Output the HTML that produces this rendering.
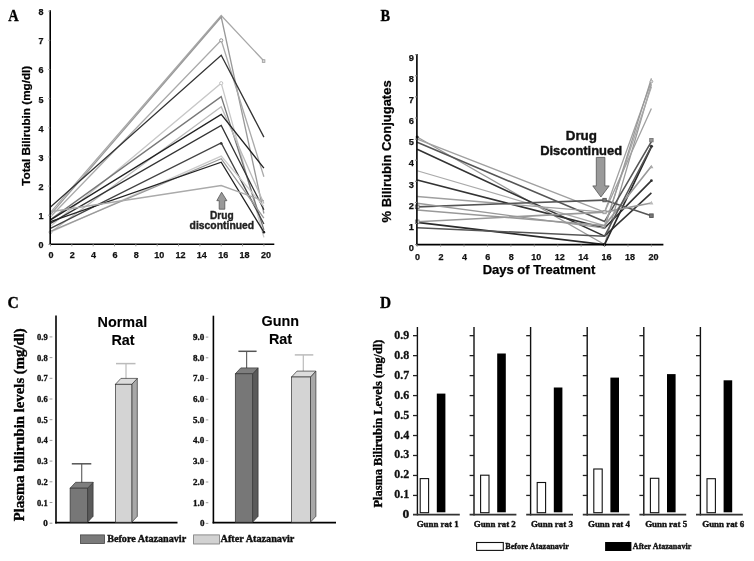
<!DOCTYPE html>
<html><head><meta charset="utf-8"><style>
html,body{margin:0;padding:0;background:#fff;}
svg{display:block;will-change:transform;}
.S{font-family:"Liberation Sans", sans-serif;}
.R{font-family:"Liberation Serif", serif;}
</style></head><body>
<svg width="754" height="561" viewBox="0 0 754 561">
<rect width="754" height="561" fill="#fff"/>
<text class="R" x="0" y="0" font-size="17" font-weight="bold" text-anchor="middle" fill="#000" stroke="#000" stroke-width="0.35" transform="translate(13.35,21.2) scale(0.85,1)">A</text>
<polyline points="50.50,212.34 221.22,15.57 263.90,61.05" fill="none" stroke="#a8a8a8" stroke-width="1.3" stroke-linejoin="miter"/>
<polyline points="50.50,214.67 221.22,17.03 263.90,213.50" fill="none" stroke="#999999" stroke-width="1.3" stroke-linejoin="miter"/>
<polyline points="50.50,216.71 221.22,40.35 263.90,176.77" fill="none" stroke="#aaaaaa" stroke-width="1.3" stroke-linejoin="miter"/>
<polyline points="50.50,207.09 221.22,55.22 263.90,137.13" fill="none" stroke="#333333" stroke-width="1.3" stroke-linejoin="miter"/>
<polyline points="50.50,226.33 221.22,83.20 263.90,237.40" fill="none" stroke="#c8c8c8" stroke-width="1.3" stroke-linejoin="miter"/>
<polyline points="50.50,219.62 221.22,96.61 263.90,229.83" fill="none" stroke="#777777" stroke-width="1.3" stroke-linejoin="miter"/>
<polyline points="50.50,232.16 221.22,106.81 263.90,203.59" fill="none" stroke="#bbbbbb" stroke-width="1.3" stroke-linejoin="miter"/>
<polyline points="50.50,219.91 221.22,114.39 263.90,168.03" fill="none" stroke="#222222" stroke-width="1.3" stroke-linejoin="miter"/>
<polyline points="50.50,223.41 221.22,125.47 263.90,209.71" fill="none" stroke="#333333" stroke-width="1.3" stroke-linejoin="miter"/>
<polyline points="50.50,228.37 221.22,142.96 263.90,224.00" fill="none" stroke="#444444" stroke-width="1.3" stroke-linejoin="miter"/>
<polyline points="50.50,232.16 221.22,156.08 263.90,206.50" fill="none" stroke="#cccccc" stroke-width="1.3" stroke-linejoin="miter"/>
<polyline points="50.50,231.28 221.22,158.70 263.90,218.17" fill="none" stroke="#999999" stroke-width="1.3" stroke-linejoin="miter"/>
<polyline points="50.50,221.66 221.22,162.20 263.90,232.16" fill="none" stroke="#222222" stroke-width="1.3" stroke-linejoin="miter"/>
<polyline points="50.50,211.75 221.22,185.52 263.90,200.97" fill="none" stroke="#aaaaaa" stroke-width="1.3" stroke-linejoin="miter"/>
<circle cx="221.22" cy="40.35" r="1.6" fill="#fff" stroke="#888" stroke-width="0.9"/>
<circle cx="221.22" cy="83.20" r="1.6" fill="#fff" stroke="#bbb" stroke-width="0.9"/>
<circle cx="221.22" cy="143.54" r="1.3" fill="#333"/>
<rect x="262.30" y="59.75" width="2.60" height="2.60" fill="#ddd" stroke="#999" stroke-width="0.8"/>
<circle cx="263.90" cy="232.16" r="1.3" fill="#222"/>
<circle cx="50.50" cy="232.16" r="1.5" fill="#fff" stroke="#aaa" stroke-width="0.9"/>
<circle cx="50.50" cy="215.25" r="1.5" fill="#fff" stroke="#bbb" stroke-width="0.9"/>
<line x1="50.20" y1="10.30" x2="50.20" y2="245.10" stroke="#000" stroke-width="1.6"/>
<line x1="49.50" y1="244.20" x2="274.30" y2="244.20" stroke="#000" stroke-width="1.6"/>
<text class="S" x="43.6" y="248.3" font-size="9" font-weight="bold" text-anchor="end" fill="#111" stroke="#111" stroke-width="0.25">0</text>
<line x1="48.30" y1="244.40" x2="50.20" y2="244.40" stroke="#999" stroke-width="1"/>
<text class="S" x="43.6" y="219.15" font-size="9" font-weight="bold" text-anchor="end" fill="#111" stroke="#111" stroke-width="0.25">1</text>
<line x1="48.30" y1="215.25" x2="50.20" y2="215.25" stroke="#999" stroke-width="1"/>
<text class="S" x="43.6" y="190.00000000000003" font-size="9" font-weight="bold" text-anchor="end" fill="#111" stroke="#111" stroke-width="0.25">2</text>
<line x1="48.30" y1="186.10" x2="50.20" y2="186.10" stroke="#999" stroke-width="1"/>
<text class="S" x="43.6" y="160.85000000000002" font-size="9" font-weight="bold" text-anchor="end" fill="#111" stroke="#111" stroke-width="0.25">3</text>
<line x1="48.30" y1="156.95" x2="50.20" y2="156.95" stroke="#999" stroke-width="1"/>
<text class="S" x="43.6" y="131.70000000000002" font-size="9" font-weight="bold" text-anchor="end" fill="#111" stroke="#111" stroke-width="0.25">4</text>
<line x1="48.30" y1="127.80" x2="50.20" y2="127.80" stroke="#999" stroke-width="1"/>
<text class="S" x="43.6" y="102.55000000000001" font-size="9" font-weight="bold" text-anchor="end" fill="#111" stroke="#111" stroke-width="0.25">5</text>
<line x1="48.30" y1="98.65" x2="50.20" y2="98.65" stroke="#999" stroke-width="1"/>
<text class="S" x="43.6" y="73.40000000000003" font-size="9" font-weight="bold" text-anchor="end" fill="#111" stroke="#111" stroke-width="0.25">6</text>
<line x1="48.30" y1="69.50" x2="50.20" y2="69.50" stroke="#999" stroke-width="1"/>
<text class="S" x="43.6" y="44.25000000000002" font-size="9" font-weight="bold" text-anchor="end" fill="#111" stroke="#111" stroke-width="0.25">7</text>
<line x1="48.30" y1="40.35" x2="50.20" y2="40.35" stroke="#999" stroke-width="1"/>
<text class="S" x="43.6" y="15.100000000000017" font-size="9" font-weight="bold" text-anchor="end" fill="#111" stroke="#111" stroke-width="0.25">8</text>
<line x1="48.30" y1="11.20" x2="50.20" y2="11.20" stroke="#999" stroke-width="1"/>
<text class="S" x="50.9" y="258.3" font-size="9" font-weight="bold" text-anchor="middle" fill="#111" stroke="#111" stroke-width="0.25">0</text>
<line x1="50.50" y1="244.20" x2="50.50" y2="246.30" stroke="#999" stroke-width="1"/>
<text class="S" x="72.24000000000001" y="258.3" font-size="9" font-weight="bold" text-anchor="middle" fill="#111" stroke="#111" stroke-width="0.25">2</text>
<line x1="71.84" y1="244.20" x2="71.84" y2="246.30" stroke="#999" stroke-width="1"/>
<text class="S" x="93.58000000000001" y="258.3" font-size="9" font-weight="bold" text-anchor="middle" fill="#111" stroke="#111" stroke-width="0.25">4</text>
<line x1="93.18" y1="244.20" x2="93.18" y2="246.30" stroke="#999" stroke-width="1"/>
<text class="S" x="114.92" y="258.3" font-size="9" font-weight="bold" text-anchor="middle" fill="#111" stroke="#111" stroke-width="0.25">6</text>
<line x1="114.52" y1="244.20" x2="114.52" y2="246.30" stroke="#999" stroke-width="1"/>
<text class="S" x="136.26000000000002" y="258.3" font-size="9" font-weight="bold" text-anchor="middle" fill="#111" stroke="#111" stroke-width="0.25">8</text>
<line x1="135.86" y1="244.20" x2="135.86" y2="246.30" stroke="#999" stroke-width="1"/>
<text class="S" x="159.2" y="258.3" font-size="9" font-weight="bold" text-anchor="middle" fill="#111" stroke="#111" stroke-width="0.25">10</text>
<line x1="157.20" y1="244.20" x2="157.20" y2="246.30" stroke="#999" stroke-width="1"/>
<text class="S" x="180.54" y="258.3" font-size="9" font-weight="bold" text-anchor="middle" fill="#111" stroke="#111" stroke-width="0.25">12</text>
<line x1="178.54" y1="244.20" x2="178.54" y2="246.30" stroke="#999" stroke-width="1"/>
<text class="S" x="201.88" y="258.3" font-size="9" font-weight="bold" text-anchor="middle" fill="#111" stroke="#111" stroke-width="0.25">14</text>
<line x1="199.88" y1="244.20" x2="199.88" y2="246.30" stroke="#999" stroke-width="1"/>
<text class="S" x="223.22" y="258.3" font-size="9" font-weight="bold" text-anchor="middle" fill="#111" stroke="#111" stroke-width="0.25">16</text>
<line x1="221.22" y1="244.20" x2="221.22" y2="246.30" stroke="#999" stroke-width="1"/>
<text class="S" x="244.56" y="258.3" font-size="9" font-weight="bold" text-anchor="middle" fill="#111" stroke="#111" stroke-width="0.25">18</text>
<line x1="242.56" y1="244.20" x2="242.56" y2="246.30" stroke="#999" stroke-width="1"/>
<text class="S" x="265.9" y="258.3" font-size="9" font-weight="bold" text-anchor="middle" fill="#111" stroke="#111" stroke-width="0.25">20</text>
<line x1="263.90" y1="244.20" x2="263.90" y2="246.30" stroke="#999" stroke-width="1"/>
<text class="S" x="0" y="0" font-size="11.7" font-weight="bold" text-anchor="middle" fill="#000" stroke="#000" stroke-width="0.25" transform="translate(29.5,125.75) rotate(-90)">Total Bilirubin (mg/dl)</text>
<polygon points="221.60,192.20 226.90,200.70 224.80,200.70 224.80,209.20 219.20,209.20 219.20,200.70 216.80,200.70" fill="#9a9a9a" stroke="#555" stroke-width="0.8"/>
<text class="S" x="221.8" y="218.9" font-size="10.6" font-weight="bold" text-anchor="middle" fill="#222" stroke="#222" stroke-width="0.35" textLength="23.6" lengthAdjust="spacingAndGlyphs">Drug</text>
<text class="S" x="221.9" y="228.7" font-size="10.6" font-weight="bold" text-anchor="middle" fill="#222" stroke="#222" stroke-width="0.35" textLength="64.6" lengthAdjust="spacingAndGlyphs">discontinued</text>
<text class="R" x="0" y="0" font-size="16.5" font-weight="bold" text-anchor="middle" fill="#000" stroke="#000" stroke-width="0.35" transform="translate(385.2,21.0) scale(0.87,1)">B</text>
<polyline points="417.20,136.99 604.56,244.60 651.40,84.24" fill="none" stroke="#9a9a9a" stroke-width="1.3" stroke-linejoin="miter"/>
<polyline points="417.20,139.10 604.56,212.11 651.40,81.50" fill="none" stroke="#a0a0a0" stroke-width="1.3" stroke-linejoin="miter"/>
<polyline points="417.20,142.26 604.56,221.60 651.40,141.63" fill="none" stroke="#555555" stroke-width="1.6" stroke-linejoin="miter"/>
<polyline points="417.20,149.23 604.56,236.16 651.40,192.90" fill="none" stroke="#333333" stroke-width="1.6" stroke-linejoin="miter"/>
<polyline points="417.20,170.75 604.56,225.61 651.40,86.77" fill="none" stroke="#aaaaaa" stroke-width="1.3" stroke-linejoin="miter"/>
<polyline points="417.20,180.03 604.56,228.14 651.40,180.67" fill="none" stroke="#333333" stroke-width="1.6" stroke-linejoin="miter"/>
<polyline points="417.20,196.49 604.56,212.11 651.40,108.50" fill="none" stroke="#a0a0a0" stroke-width="1.3" stroke-linejoin="miter"/>
<polyline points="417.20,222.44 604.56,244.60 651.40,146.91" fill="none" stroke="#2a2a2a" stroke-width="1.7" stroke-linejoin="miter"/>
<polyline points="417.20,206.83 604.56,200.08 651.40,215.69" fill="none" stroke="#555555" stroke-width="1.6" stroke-linejoin="miter"/>
<polyline points="417.20,210.00 604.56,225.61 651.40,166.32" fill="none" stroke="#999999" stroke-width="1.6" stroke-linejoin="miter"/>
<polyline points="417.20,221.81 604.56,212.11 651.40,203.03" fill="none" stroke="#999999" stroke-width="1.6" stroke-linejoin="miter"/>
<polyline points="417.20,203.24 604.56,228.14 651.40,78.33" fill="none" stroke="#999999" stroke-width="1.3" stroke-linejoin="miter"/>
<polyline points="417.20,227.72 604.56,236.16 651.40,146.27" fill="none" stroke="#555555" stroke-width="1.5" stroke-linejoin="miter"/>
<circle cx="417.20" cy="136.99" r="1.6" fill="#444"/>
<rect x="415.40" y="205.03" width="3.60" height="3.60" fill="#fff" stroke="#777" stroke-width="0.9"/>
<rect x="415.40" y="220.01" width="3.60" height="3.60" fill="#fff" stroke="#888" stroke-width="0.9"/>
<rect x="602.86" y="198.38" width="3.40" height="3.40" fill="#777" stroke="#555" stroke-width="0.9"/>
<rect x="602.96" y="210.51" width="3.20" height="3.20" fill="#ccc" stroke="#999" stroke-width="0.9"/>
<circle cx="604.56" cy="244.60" r="1.8" fill="#333"/>
<circle cx="651.40" cy="81.50" r="1.4" fill="#ddd" stroke="#999" stroke-width="0.8"/>
<rect x="649.70" y="138.45" width="3.40" height="3.40" fill="#999" stroke="#777" stroke-width="0.9"/>
<circle cx="651.40" cy="146.27" r="1.6" fill="#333"/>
<polygon points="651.40,164.75 653.40,168.35 649.40,168.35" fill="#aaa" stroke="none" stroke-width="1"/>
<circle cx="651.40" cy="180.67" r="1.4" fill="#333"/>
<polygon points="651.40,200.83 653.40,204.43 649.40,204.43" fill="#bbb" stroke="none" stroke-width="1"/>
<rect x="649.60" y="213.89" width="3.60" height="3.60" fill="#777" stroke="#555" stroke-width="0.9"/>
<line x1="416.90" y1="54.10" x2="416.90" y2="245.30" stroke="#000" stroke-width="1.6"/>
<line x1="416.20" y1="244.60" x2="663.40" y2="244.60" stroke="#000" stroke-width="1.6"/>
<text class="S" x="414.0" y="250.79999999999998" font-size="9.3" font-weight="bold" text-anchor="end" fill="#111" stroke="#111" stroke-width="0.25">0</text>
<line x1="415.00" y1="244.60" x2="416.90" y2="244.60" stroke="#888" stroke-width="1"/>
<text class="S" x="414.0" y="229.7" font-size="9.3" font-weight="bold" text-anchor="end" fill="#111" stroke="#111" stroke-width="0.25">1</text>
<line x1="415.00" y1="223.50" x2="416.90" y2="223.50" stroke="#888" stroke-width="1"/>
<text class="S" x="414.0" y="208.59999999999997" font-size="9.3" font-weight="bold" text-anchor="end" fill="#111" stroke="#111" stroke-width="0.25">2</text>
<line x1="415.00" y1="202.40" x2="416.90" y2="202.40" stroke="#888" stroke-width="1"/>
<text class="S" x="414.0" y="187.49999999999997" font-size="9.3" font-weight="bold" text-anchor="end" fill="#111" stroke="#111" stroke-width="0.25">3</text>
<line x1="415.00" y1="181.30" x2="416.90" y2="181.30" stroke="#888" stroke-width="1"/>
<text class="S" x="414.0" y="166.39999999999998" font-size="9.3" font-weight="bold" text-anchor="end" fill="#111" stroke="#111" stroke-width="0.25">4</text>
<line x1="415.00" y1="160.20" x2="416.90" y2="160.20" stroke="#888" stroke-width="1"/>
<text class="S" x="414.0" y="145.29999999999998" font-size="9.3" font-weight="bold" text-anchor="end" fill="#111" stroke="#111" stroke-width="0.25">5</text>
<line x1="415.00" y1="139.10" x2="416.90" y2="139.10" stroke="#888" stroke-width="1"/>
<text class="S" x="414.0" y="124.19999999999999" font-size="9.3" font-weight="bold" text-anchor="end" fill="#111" stroke="#111" stroke-width="0.25">6</text>
<line x1="415.00" y1="118.00" x2="416.90" y2="118.00" stroke="#888" stroke-width="1"/>
<text class="S" x="414.0" y="103.09999999999998" font-size="9.3" font-weight="bold" text-anchor="end" fill="#111" stroke="#111" stroke-width="0.25">7</text>
<line x1="415.00" y1="96.90" x2="416.90" y2="96.90" stroke="#888" stroke-width="1"/>
<text class="S" x="414.0" y="81.99999999999999" font-size="9.3" font-weight="bold" text-anchor="end" fill="#111" stroke="#111" stroke-width="0.25">8</text>
<line x1="415.00" y1="75.80" x2="416.90" y2="75.80" stroke="#888" stroke-width="1"/>
<text class="S" x="414.0" y="60.89999999999999" font-size="9.3" font-weight="bold" text-anchor="end" fill="#111" stroke="#111" stroke-width="0.25">9</text>
<line x1="415.00" y1="54.70" x2="416.90" y2="54.70" stroke="#888" stroke-width="1"/>
<text class="S" x="417.59999999999997" y="259.7" font-size="9" font-weight="bold" text-anchor="middle" fill="#111" stroke="#111" stroke-width="0.25">0</text>
<line x1="417.20" y1="244.60" x2="417.20" y2="246.60" stroke="#888" stroke-width="1"/>
<text class="S" x="441.02" y="259.7" font-size="9" font-weight="bold" text-anchor="middle" fill="#111" stroke="#111" stroke-width="0.25">2</text>
<line x1="440.62" y1="244.60" x2="440.62" y2="246.60" stroke="#888" stroke-width="1"/>
<text class="S" x="464.43999999999994" y="259.7" font-size="9" font-weight="bold" text-anchor="middle" fill="#111" stroke="#111" stroke-width="0.25">4</text>
<line x1="464.04" y1="244.60" x2="464.04" y2="246.60" stroke="#888" stroke-width="1"/>
<text class="S" x="487.85999999999996" y="259.7" font-size="9" font-weight="bold" text-anchor="middle" fill="#111" stroke="#111" stroke-width="0.25">6</text>
<line x1="487.46" y1="244.60" x2="487.46" y2="246.60" stroke="#888" stroke-width="1"/>
<text class="S" x="511.28" y="259.7" font-size="9" font-weight="bold" text-anchor="middle" fill="#111" stroke="#111" stroke-width="0.25">8</text>
<line x1="510.88" y1="244.60" x2="510.88" y2="246.60" stroke="#888" stroke-width="1"/>
<text class="S" x="536.3" y="259.7" font-size="9" font-weight="bold" text-anchor="middle" fill="#111" stroke="#111" stroke-width="0.25">10</text>
<line x1="534.30" y1="244.60" x2="534.30" y2="246.60" stroke="#888" stroke-width="1"/>
<text class="S" x="559.72" y="259.7" font-size="9" font-weight="bold" text-anchor="middle" fill="#111" stroke="#111" stroke-width="0.25">12</text>
<line x1="557.72" y1="244.60" x2="557.72" y2="246.60" stroke="#888" stroke-width="1"/>
<text class="S" x="583.14" y="259.7" font-size="9" font-weight="bold" text-anchor="middle" fill="#111" stroke="#111" stroke-width="0.25">14</text>
<line x1="581.14" y1="244.60" x2="581.14" y2="246.60" stroke="#888" stroke-width="1"/>
<text class="S" x="606.56" y="259.7" font-size="9" font-weight="bold" text-anchor="middle" fill="#111" stroke="#111" stroke-width="0.25">16</text>
<line x1="604.56" y1="244.60" x2="604.56" y2="246.60" stroke="#888" stroke-width="1"/>
<text class="S" x="629.98" y="259.7" font-size="9" font-weight="bold" text-anchor="middle" fill="#111" stroke="#111" stroke-width="0.25">18</text>
<line x1="627.98" y1="244.60" x2="627.98" y2="246.60" stroke="#888" stroke-width="1"/>
<text class="S" x="653.4" y="259.7" font-size="9" font-weight="bold" text-anchor="middle" fill="#111" stroke="#111" stroke-width="0.25">20</text>
<line x1="651.40" y1="244.60" x2="651.40" y2="246.60" stroke="#888" stroke-width="1"/>
<text class="S" x="0" y="0" font-size="12.5" font-weight="bold" text-anchor="middle" fill="#000" stroke="#000" stroke-width="0.25" transform="translate(391.0,151.4) rotate(-90)" textLength="142" lengthAdjust="spacingAndGlyphs">% Bilirubin Conjugates</text>
<text class="S" x="539" y="274.3" font-size="13" font-weight="bold" text-anchor="middle" fill="#000" stroke="#000" stroke-width="0.25">Days of Treatment</text>
<text class="S" x="581.35" y="140.4" font-size="13.4" font-weight="bold" text-anchor="middle" fill="#111" stroke="#111" stroke-width="0.4">Drug</text>
<text class="S" x="581.15" y="155.2" font-size="13.4" font-weight="bold" text-anchor="middle" fill="#111" stroke="#111" stroke-width="0.4" textLength="82" lengthAdjust="spacingAndGlyphs">Discontinued</text>
<polygon points="596.30,157.40 604.90,157.40 604.90,185.90 609.20,185.90 600.90,197.00 592.80,185.90 596.30,185.90" fill="#9a9a9a" stroke="#555" stroke-width="0.8"/>
<text class="R" x="0" y="0" font-size="16.5" font-weight="bold" text-anchor="middle" fill="#000" stroke="#000" stroke-width="0.35" transform="translate(13.05,307.8) scale(0.95,1)">C</text>
<line x1="56.00" y1="315.60" x2="56.00" y2="523.40" stroke="#000" stroke-width="1.6"/>
<line x1="55.20" y1="522.60" x2="177.50" y2="522.60" stroke="#000" stroke-width="1.6"/>
<text class="R" x="47.7" y="526.2" font-size="9" font-weight="bold" text-anchor="end" fill="#111" stroke="#111" stroke-width="0.35">0</text>
<line x1="49.60" y1="523.20" x2="52.40" y2="523.20" stroke="#999" stroke-width="1.0"/>
<text class="R" x="47.7" y="505.50000000000006" font-size="9" font-weight="bold" text-anchor="end" fill="#111" stroke="#111" stroke-width="0.35" textLength="10.6" lengthAdjust="spacingAndGlyphs">0.1</text>
<line x1="49.60" y1="502.50" x2="52.40" y2="502.50" stroke="#999" stroke-width="1.0"/>
<text class="R" x="47.7" y="484.80000000000007" font-size="9" font-weight="bold" text-anchor="end" fill="#111" stroke="#111" stroke-width="0.35" textLength="10.6" lengthAdjust="spacingAndGlyphs">0.2</text>
<line x1="49.60" y1="481.80" x2="52.40" y2="481.80" stroke="#999" stroke-width="1.0"/>
<text class="R" x="47.7" y="464.1" font-size="9" font-weight="bold" text-anchor="end" fill="#111" stroke="#111" stroke-width="0.35" textLength="10.6" lengthAdjust="spacingAndGlyphs">0.3</text>
<line x1="49.60" y1="461.10" x2="52.40" y2="461.10" stroke="#999" stroke-width="1.0"/>
<text class="R" x="47.7" y="443.40000000000003" font-size="9" font-weight="bold" text-anchor="end" fill="#111" stroke="#111" stroke-width="0.35" textLength="10.6" lengthAdjust="spacingAndGlyphs">0.4</text>
<line x1="49.60" y1="440.40" x2="52.40" y2="440.40" stroke="#999" stroke-width="1.0"/>
<text class="R" x="47.7" y="422.70000000000005" font-size="9" font-weight="bold" text-anchor="end" fill="#111" stroke="#111" stroke-width="0.35" textLength="10.6" lengthAdjust="spacingAndGlyphs">0.5</text>
<line x1="49.60" y1="419.70" x2="52.40" y2="419.70" stroke="#999" stroke-width="1.0"/>
<text class="R" x="47.7" y="402.00000000000006" font-size="9" font-weight="bold" text-anchor="end" fill="#111" stroke="#111" stroke-width="0.35" textLength="10.6" lengthAdjust="spacingAndGlyphs">0.6</text>
<line x1="49.60" y1="399.00" x2="52.40" y2="399.00" stroke="#999" stroke-width="1.0"/>
<text class="R" x="47.7" y="381.30000000000007" font-size="9" font-weight="bold" text-anchor="end" fill="#111" stroke="#111" stroke-width="0.35" textLength="10.6" lengthAdjust="spacingAndGlyphs">0.7</text>
<line x1="49.60" y1="378.30" x2="52.40" y2="378.30" stroke="#999" stroke-width="1.0"/>
<text class="R" x="47.7" y="360.6" font-size="9" font-weight="bold" text-anchor="end" fill="#111" stroke="#111" stroke-width="0.35" textLength="10.6" lengthAdjust="spacingAndGlyphs">0.8</text>
<line x1="49.60" y1="357.60" x2="52.40" y2="357.60" stroke="#999" stroke-width="1.0"/>
<text class="R" x="47.7" y="339.90000000000003" font-size="9" font-weight="bold" text-anchor="end" fill="#111" stroke="#111" stroke-width="0.35" textLength="10.6" lengthAdjust="spacingAndGlyphs">0.9</text>
<line x1="49.60" y1="336.90" x2="52.40" y2="336.90" stroke="#999" stroke-width="1.0"/>
<text class="R" x="0" y="0" font-size="14.8" font-weight="bold" text-anchor="middle" fill="#000" stroke="#000" stroke-width="0.35" transform="translate(23.6,424.8) rotate(-90)" textLength="193" lengthAdjust="spacingAndGlyphs">Plasma bilirubin levels (mg/dl)</text>
<text class="S" x="122.35" y="326.6" font-size="14.4" font-weight="bold" text-anchor="middle" fill="#000" stroke="#000" stroke-width="0.1">Normal</text>
<text class="S" x="123.05" y="344.7" font-size="14.4" font-weight="bold" text-anchor="middle" fill="#000" stroke="#000" stroke-width="0.1">Rat</text>
<line x1="81.70" y1="463.80" x2="81.70" y2="485.00" stroke="#666" stroke-width="1.2"/>
<line x1="71.80" y1="463.80" x2="91.30" y2="463.80" stroke="#555" stroke-width="1.5"/>
<polygon points="87.60,488.20 93.10,482.30 93.10,516.30 87.60,522.20" fill="#5a5a5a" stroke="#333" stroke-width="0.7"/>
<polygon points="70.10,488.20 75.60,482.30 93.10,482.30 87.60,488.20" fill="#7e7e7e" stroke="#333" stroke-width="0.7"/>
<rect x="70.10" y="488.20" width="17.50" height="34.00" fill="#777777" stroke="#333" stroke-width="0.7"/>
<line x1="126.00" y1="363.60" x2="126.00" y2="382.00" stroke="#bbb" stroke-width="1.2"/>
<line x1="116.00" y1="363.60" x2="135.50" y2="363.60" stroke="#bbb" stroke-width="1.5"/>
<polygon points="131.80,384.30 137.30,378.40 137.30,516.30 131.80,522.20" fill="#a8a8a8" stroke="#333" stroke-width="0.7"/>
<polygon points="115.40,384.30 120.90,378.40 137.30,378.40 131.80,384.30" fill="#dcdcdc" stroke="#333" stroke-width="0.7"/>
<rect x="115.40" y="384.30" width="16.40" height="137.90" fill="#d4d4d4" stroke="#333" stroke-width="0.7"/>
<line x1="213.40" y1="315.70" x2="213.40" y2="523.40" stroke="#000" stroke-width="1.6"/>
<line x1="212.60" y1="522.60" x2="336.00" y2="522.60" stroke="#000" stroke-width="1.6"/>
<text class="R" x="204.4" y="526.2" font-size="9" font-weight="bold" text-anchor="end" fill="#111" stroke="#111" stroke-width="0.35">0</text>
<line x1="205.80" y1="523.40" x2="208.30" y2="523.40" stroke="#999" stroke-width="1.0"/>
<text class="R" x="204.4" y="505.50000000000006" font-size="9" font-weight="bold" text-anchor="end" fill="#111" stroke="#111" stroke-width="0.35" textLength="11.3" lengthAdjust="spacingAndGlyphs">1.0</text>
<line x1="205.80" y1="502.70" x2="208.30" y2="502.70" stroke="#999" stroke-width="1.0"/>
<text class="R" x="204.4" y="484.80000000000007" font-size="9" font-weight="bold" text-anchor="end" fill="#111" stroke="#111" stroke-width="0.35" textLength="11.3" lengthAdjust="spacingAndGlyphs">2.0</text>
<line x1="205.80" y1="482.00" x2="208.30" y2="482.00" stroke="#999" stroke-width="1.0"/>
<text class="R" x="204.4" y="464.1" font-size="9" font-weight="bold" text-anchor="end" fill="#111" stroke="#111" stroke-width="0.35" textLength="11.3" lengthAdjust="spacingAndGlyphs">3.0</text>
<line x1="205.80" y1="461.30" x2="208.30" y2="461.30" stroke="#999" stroke-width="1.0"/>
<text class="R" x="204.4" y="443.40000000000003" font-size="9" font-weight="bold" text-anchor="end" fill="#111" stroke="#111" stroke-width="0.35" textLength="11.3" lengthAdjust="spacingAndGlyphs">4.0</text>
<line x1="205.80" y1="440.60" x2="208.30" y2="440.60" stroke="#999" stroke-width="1.0"/>
<text class="R" x="204.4" y="422.70000000000005" font-size="9" font-weight="bold" text-anchor="end" fill="#111" stroke="#111" stroke-width="0.35" textLength="11.3" lengthAdjust="spacingAndGlyphs">5.0</text>
<line x1="205.80" y1="419.90" x2="208.30" y2="419.90" stroke="#999" stroke-width="1.0"/>
<text class="R" x="204.4" y="402.00000000000006" font-size="9" font-weight="bold" text-anchor="end" fill="#111" stroke="#111" stroke-width="0.35" textLength="11.3" lengthAdjust="spacingAndGlyphs">6.0</text>
<line x1="205.80" y1="399.20" x2="208.30" y2="399.20" stroke="#999" stroke-width="1.0"/>
<text class="R" x="204.4" y="381.30000000000007" font-size="9" font-weight="bold" text-anchor="end" fill="#111" stroke="#111" stroke-width="0.35" textLength="11.3" lengthAdjust="spacingAndGlyphs">7.0</text>
<line x1="205.80" y1="378.50" x2="208.30" y2="378.50" stroke="#999" stroke-width="1.0"/>
<text class="R" x="204.4" y="360.6" font-size="9" font-weight="bold" text-anchor="end" fill="#111" stroke="#111" stroke-width="0.35" textLength="11.3" lengthAdjust="spacingAndGlyphs">8.0</text>
<line x1="205.80" y1="357.80" x2="208.30" y2="357.80" stroke="#999" stroke-width="1.0"/>
<text class="R" x="204.4" y="339.90000000000003" font-size="9" font-weight="bold" text-anchor="end" fill="#111" stroke="#111" stroke-width="0.35" textLength="11.3" lengthAdjust="spacingAndGlyphs">9.0</text>
<line x1="205.80" y1="337.10" x2="208.30" y2="337.10" stroke="#999" stroke-width="1.0"/>
<text class="S" x="280.3" y="326.4" font-size="14.4" font-weight="bold" text-anchor="middle" fill="#000" stroke="#000" stroke-width="0.1">Gunn</text>
<text class="S" x="280.5" y="344.3" font-size="14.4" font-weight="bold" text-anchor="middle" fill="#000" stroke="#000" stroke-width="0.1">Rat</text>
<line x1="246.60" y1="351.30" x2="246.60" y2="370.00" stroke="#666" stroke-width="1.2"/>
<line x1="238.40" y1="351.30" x2="256.60" y2="351.30" stroke="#555" stroke-width="1.5"/>
<polygon points="252.60,373.80 258.10,367.90 258.10,516.30 252.60,522.20" fill="#5a5a5a" stroke="#333" stroke-width="0.7"/>
<polygon points="235.30,373.80 240.80,367.90 258.10,367.90 252.60,373.80" fill="#7e7e7e" stroke="#333" stroke-width="0.7"/>
<rect x="235.30" y="373.80" width="17.30" height="148.40" fill="#777777" stroke="#333" stroke-width="0.7"/>
<line x1="303.30" y1="354.90" x2="303.30" y2="373.00" stroke="#bbb" stroke-width="1.2"/>
<line x1="294.80" y1="354.90" x2="313.30" y2="354.90" stroke="#bbb" stroke-width="1.5"/>
<polygon points="310.40,377.00 315.90,371.10 315.90,516.30 310.40,522.20" fill="#a8a8a8" stroke="#333" stroke-width="0.7"/>
<polygon points="291.50,377.00 297.00,371.10 315.90,371.10 310.40,377.00" fill="#dcdcdc" stroke="#333" stroke-width="0.7"/>
<rect x="291.50" y="377.00" width="18.90" height="145.20" fill="#d4d4d4" stroke="#333" stroke-width="0.7"/>
<rect x="80.50" y="534.90" width="24.00" height="8.60" fill="#7a7a7a" stroke="#444" stroke-width="0.8"/>
<text class="R" x="107.2" y="542.2" font-size="9.6" font-weight="bold" text-anchor="start" fill="#111" stroke="#111" stroke-width="0.35" textLength="79" lengthAdjust="spacingAndGlyphs">Before Atazanavir</text>
<rect x="193.60" y="534.90" width="25.90" height="9.10" fill="#d2d2d2" stroke="#777" stroke-width="0.8"/>
<text class="R" x="220.6" y="542.2" font-size="9.6" font-weight="bold" text-anchor="start" fill="#111" stroke="#111" stroke-width="0.35" textLength="73.8" lengthAdjust="spacingAndGlyphs">After Atazanavir</text>
<text class="R" x="0" y="0" font-size="16.5" font-weight="bold" text-anchor="middle" fill="#000" stroke="#000" stroke-width="0.35" transform="translate(385.5,307.8) scale(0.93,1)">D</text>
<text class="R" x="0" y="0" font-size="12.4" font-weight="bold" text-anchor="middle" fill="#000" stroke="#000" stroke-width="0.35" transform="translate(382.0,423.5) rotate(-90)" textLength="168" lengthAdjust="spacingAndGlyphs">Plasma Bilirubin Levels (mg/dl)</text>
<text class="R" x="409.3" y="518.4" font-size="12.3" font-weight="bold" text-anchor="end" fill="#111" stroke="#111" stroke-width="0.3" textLength="6.8" lengthAdjust="spacingAndGlyphs">0</text>
<text class="R" x="409.3" y="498.42999999999995" font-size="12.3" font-weight="bold" text-anchor="end" fill="#111" stroke="#111" stroke-width="0.3" textLength="15" lengthAdjust="spacingAndGlyphs">0.1</text>
<text class="R" x="409.3" y="478.46" font-size="12.3" font-weight="bold" text-anchor="end" fill="#111" stroke="#111" stroke-width="0.3" textLength="15" lengthAdjust="spacingAndGlyphs">0.2</text>
<text class="R" x="409.3" y="458.49" font-size="12.3" font-weight="bold" text-anchor="end" fill="#111" stroke="#111" stroke-width="0.3" textLength="15" lengthAdjust="spacingAndGlyphs">0.3</text>
<text class="R" x="409.3" y="438.52" font-size="12.3" font-weight="bold" text-anchor="end" fill="#111" stroke="#111" stroke-width="0.3" textLength="15" lengthAdjust="spacingAndGlyphs">0.4</text>
<text class="R" x="409.3" y="418.54999999999995" font-size="12.3" font-weight="bold" text-anchor="end" fill="#111" stroke="#111" stroke-width="0.3" textLength="15" lengthAdjust="spacingAndGlyphs">0.5</text>
<text class="R" x="409.3" y="398.58" font-size="12.3" font-weight="bold" text-anchor="end" fill="#111" stroke="#111" stroke-width="0.3" textLength="15" lengthAdjust="spacingAndGlyphs">0.6</text>
<text class="R" x="409.3" y="378.61" font-size="12.3" font-weight="bold" text-anchor="end" fill="#111" stroke="#111" stroke-width="0.3" textLength="15" lengthAdjust="spacingAndGlyphs">0.7</text>
<text class="R" x="409.3" y="358.64" font-size="12.3" font-weight="bold" text-anchor="end" fill="#111" stroke="#111" stroke-width="0.3" textLength="15" lengthAdjust="spacingAndGlyphs">0.8</text>
<text class="R" x="409.3" y="338.66999999999996" font-size="12.3" font-weight="bold" text-anchor="end" fill="#111" stroke="#111" stroke-width="0.3" textLength="15" lengthAdjust="spacingAndGlyphs">0.9</text>
<line x1="417.40" y1="327.00" x2="417.40" y2="515.40" stroke="#111" stroke-width="1.4"/>
<line x1="413.00" y1="514.60" x2="459.80" y2="514.60" stroke="#333" stroke-width="1.6"/>
<line x1="413.00" y1="495.43" x2="417.40" y2="495.43" stroke="#222" stroke-width="1.3"/>
<line x1="413.00" y1="475.46" x2="417.40" y2="475.46" stroke="#222" stroke-width="1.3"/>
<line x1="413.00" y1="455.49" x2="417.40" y2="455.49" stroke="#222" stroke-width="1.3"/>
<line x1="413.00" y1="435.52" x2="417.40" y2="435.52" stroke="#222" stroke-width="1.3"/>
<line x1="413.00" y1="415.55" x2="417.40" y2="415.55" stroke="#222" stroke-width="1.3"/>
<line x1="413.00" y1="395.58" x2="417.40" y2="395.58" stroke="#222" stroke-width="1.3"/>
<line x1="413.00" y1="375.61" x2="417.40" y2="375.61" stroke="#222" stroke-width="1.3"/>
<line x1="413.00" y1="355.64" x2="417.40" y2="355.64" stroke="#222" stroke-width="1.3"/>
<line x1="413.00" y1="335.67" x2="417.40" y2="335.67" stroke="#222" stroke-width="1.3"/>
<rect x="420.20" y="478.60" width="8.40" height="34.10" fill="#fff" stroke="#111" stroke-width="1.1"/>
<rect x="436.80" y="393.60" width="8.60" height="118.70" fill="#000" stroke="none" stroke-width="1"/>
<text class="R" x="437.65" y="527.0" font-size="9.2" font-weight="bold" text-anchor="middle" fill="#111" stroke="#111" stroke-width="0.4" textLength="42" lengthAdjust="spacingAndGlyphs">Gunn rat 1</text>
<line x1="474.00" y1="327.00" x2="474.00" y2="515.40" stroke="#111" stroke-width="1.4"/>
<line x1="469.60" y1="514.60" x2="516.40" y2="514.60" stroke="#333" stroke-width="1.6"/>
<line x1="469.60" y1="495.43" x2="474.00" y2="495.43" stroke="#222" stroke-width="1.3"/>
<line x1="469.60" y1="475.46" x2="474.00" y2="475.46" stroke="#222" stroke-width="1.3"/>
<line x1="469.60" y1="455.49" x2="474.00" y2="455.49" stroke="#222" stroke-width="1.3"/>
<line x1="469.60" y1="435.52" x2="474.00" y2="435.52" stroke="#222" stroke-width="1.3"/>
<line x1="469.60" y1="415.55" x2="474.00" y2="415.55" stroke="#222" stroke-width="1.3"/>
<line x1="469.60" y1="395.58" x2="474.00" y2="395.58" stroke="#222" stroke-width="1.3"/>
<line x1="469.60" y1="375.61" x2="474.00" y2="375.61" stroke="#222" stroke-width="1.3"/>
<line x1="469.60" y1="355.64" x2="474.00" y2="355.64" stroke="#222" stroke-width="1.3"/>
<line x1="469.60" y1="335.67" x2="474.00" y2="335.67" stroke="#222" stroke-width="1.3"/>
<rect x="480.60" y="475.20" width="8.40" height="37.50" fill="#fff" stroke="#111" stroke-width="1.1"/>
<rect x="497.20" y="353.50" width="8.60" height="158.80" fill="#000" stroke="none" stroke-width="1"/>
<text class="R" x="494.77" y="527.0" font-size="9.2" font-weight="bold" text-anchor="middle" fill="#111" stroke="#111" stroke-width="0.4" textLength="42" lengthAdjust="spacingAndGlyphs">Gunn rat 2</text>
<line x1="530.60" y1="327.00" x2="530.60" y2="515.40" stroke="#111" stroke-width="1.4"/>
<line x1="526.20" y1="514.60" x2="573.00" y2="514.60" stroke="#333" stroke-width="1.6"/>
<line x1="526.20" y1="495.43" x2="530.60" y2="495.43" stroke="#222" stroke-width="1.3"/>
<line x1="526.20" y1="475.46" x2="530.60" y2="475.46" stroke="#222" stroke-width="1.3"/>
<line x1="526.20" y1="455.49" x2="530.60" y2="455.49" stroke="#222" stroke-width="1.3"/>
<line x1="526.20" y1="435.52" x2="530.60" y2="435.52" stroke="#222" stroke-width="1.3"/>
<line x1="526.20" y1="415.55" x2="530.60" y2="415.55" stroke="#222" stroke-width="1.3"/>
<line x1="526.20" y1="395.58" x2="530.60" y2="395.58" stroke="#222" stroke-width="1.3"/>
<line x1="526.20" y1="375.61" x2="530.60" y2="375.61" stroke="#222" stroke-width="1.3"/>
<line x1="526.20" y1="355.64" x2="530.60" y2="355.64" stroke="#222" stroke-width="1.3"/>
<line x1="526.20" y1="335.67" x2="530.60" y2="335.67" stroke="#222" stroke-width="1.3"/>
<rect x="537.20" y="482.50" width="8.40" height="30.20" fill="#fff" stroke="#111" stroke-width="1.1"/>
<rect x="553.80" y="387.50" width="8.60" height="124.80" fill="#000" stroke="none" stroke-width="1"/>
<text class="R" x="551.89" y="527.0" font-size="9.2" font-weight="bold" text-anchor="middle" fill="#111" stroke="#111" stroke-width="0.4" textLength="42" lengthAdjust="spacingAndGlyphs">Gunn rat 3</text>
<line x1="587.20" y1="327.00" x2="587.20" y2="515.40" stroke="#111" stroke-width="1.4"/>
<line x1="582.80" y1="514.60" x2="629.60" y2="514.60" stroke="#333" stroke-width="1.6"/>
<line x1="582.80" y1="495.43" x2="587.20" y2="495.43" stroke="#222" stroke-width="1.3"/>
<line x1="582.80" y1="475.46" x2="587.20" y2="475.46" stroke="#222" stroke-width="1.3"/>
<line x1="582.80" y1="455.49" x2="587.20" y2="455.49" stroke="#222" stroke-width="1.3"/>
<line x1="582.80" y1="435.52" x2="587.20" y2="435.52" stroke="#222" stroke-width="1.3"/>
<line x1="582.80" y1="415.55" x2="587.20" y2="415.55" stroke="#222" stroke-width="1.3"/>
<line x1="582.80" y1="395.58" x2="587.20" y2="395.58" stroke="#222" stroke-width="1.3"/>
<line x1="582.80" y1="375.61" x2="587.20" y2="375.61" stroke="#222" stroke-width="1.3"/>
<line x1="582.80" y1="355.64" x2="587.20" y2="355.64" stroke="#222" stroke-width="1.3"/>
<line x1="582.80" y1="335.67" x2="587.20" y2="335.67" stroke="#222" stroke-width="1.3"/>
<rect x="593.80" y="469.00" width="8.40" height="43.70" fill="#fff" stroke="#111" stroke-width="1.1"/>
<rect x="610.40" y="377.60" width="8.60" height="134.70" fill="#000" stroke="none" stroke-width="1"/>
<text class="R" x="609.01" y="527.0" font-size="9.2" font-weight="bold" text-anchor="middle" fill="#111" stroke="#111" stroke-width="0.4" textLength="42" lengthAdjust="spacingAndGlyphs">Gunn rat 4</text>
<line x1="643.80" y1="327.00" x2="643.80" y2="515.40" stroke="#111" stroke-width="1.4"/>
<line x1="639.40" y1="514.60" x2="686.20" y2="514.60" stroke="#333" stroke-width="1.6"/>
<line x1="639.40" y1="495.43" x2="643.80" y2="495.43" stroke="#222" stroke-width="1.3"/>
<line x1="639.40" y1="475.46" x2="643.80" y2="475.46" stroke="#222" stroke-width="1.3"/>
<line x1="639.40" y1="455.49" x2="643.80" y2="455.49" stroke="#222" stroke-width="1.3"/>
<line x1="639.40" y1="435.52" x2="643.80" y2="435.52" stroke="#222" stroke-width="1.3"/>
<line x1="639.40" y1="415.55" x2="643.80" y2="415.55" stroke="#222" stroke-width="1.3"/>
<line x1="639.40" y1="395.58" x2="643.80" y2="395.58" stroke="#222" stroke-width="1.3"/>
<line x1="639.40" y1="375.61" x2="643.80" y2="375.61" stroke="#222" stroke-width="1.3"/>
<line x1="639.40" y1="355.64" x2="643.80" y2="355.64" stroke="#222" stroke-width="1.3"/>
<line x1="639.40" y1="335.67" x2="643.80" y2="335.67" stroke="#222" stroke-width="1.3"/>
<rect x="650.40" y="478.30" width="8.40" height="34.40" fill="#fff" stroke="#111" stroke-width="1.1"/>
<rect x="667.00" y="374.10" width="8.60" height="138.20" fill="#000" stroke="none" stroke-width="1"/>
<text class="R" x="666.13" y="527.0" font-size="9.2" font-weight="bold" text-anchor="middle" fill="#111" stroke="#111" stroke-width="0.4" textLength="42" lengthAdjust="spacingAndGlyphs">Gunn rat 5</text>
<line x1="700.40" y1="327.00" x2="700.40" y2="515.40" stroke="#111" stroke-width="1.4"/>
<line x1="696.00" y1="514.60" x2="742.80" y2="514.60" stroke="#333" stroke-width="1.6"/>
<line x1="696.00" y1="495.43" x2="700.40" y2="495.43" stroke="#222" stroke-width="1.3"/>
<line x1="696.00" y1="475.46" x2="700.40" y2="475.46" stroke="#222" stroke-width="1.3"/>
<line x1="696.00" y1="455.49" x2="700.40" y2="455.49" stroke="#222" stroke-width="1.3"/>
<line x1="696.00" y1="435.52" x2="700.40" y2="435.52" stroke="#222" stroke-width="1.3"/>
<line x1="696.00" y1="415.55" x2="700.40" y2="415.55" stroke="#222" stroke-width="1.3"/>
<line x1="696.00" y1="395.58" x2="700.40" y2="395.58" stroke="#222" stroke-width="1.3"/>
<line x1="696.00" y1="375.61" x2="700.40" y2="375.61" stroke="#222" stroke-width="1.3"/>
<line x1="696.00" y1="355.64" x2="700.40" y2="355.64" stroke="#222" stroke-width="1.3"/>
<line x1="696.00" y1="335.67" x2="700.40" y2="335.67" stroke="#222" stroke-width="1.3"/>
<rect x="707.00" y="478.70" width="8.40" height="34.00" fill="#fff" stroke="#111" stroke-width="1.1"/>
<rect x="723.60" y="380.30" width="8.60" height="132.00" fill="#000" stroke="none" stroke-width="1"/>
<text class="R" x="723.25" y="527.0" font-size="9.2" font-weight="bold" text-anchor="middle" fill="#111" stroke="#111" stroke-width="0.4" textLength="42" lengthAdjust="spacingAndGlyphs">Gunn rat 6</text>
<rect x="476.60" y="542.50" width="26.70" height="7.90" fill="#fff" stroke="#111" stroke-width="1.1"/>
<text class="R" x="505.3" y="549.3" font-size="8.3" font-weight="bold" text-anchor="start" fill="#111" stroke="#111" stroke-width="0.35" textLength="63.5" lengthAdjust="spacingAndGlyphs">Before Atazanavir</text>
<rect x="605.10" y="542.00" width="26.30" height="9.00" fill="#000" stroke="none" stroke-width="1"/>
<text class="R" x="632.8" y="549.3" font-size="8.3" font-weight="bold" text-anchor="start" fill="#111" stroke="#111" stroke-width="0.35" textLength="58.5" lengthAdjust="spacingAndGlyphs">After Atazanavir</text>
</svg>
</body></html>
